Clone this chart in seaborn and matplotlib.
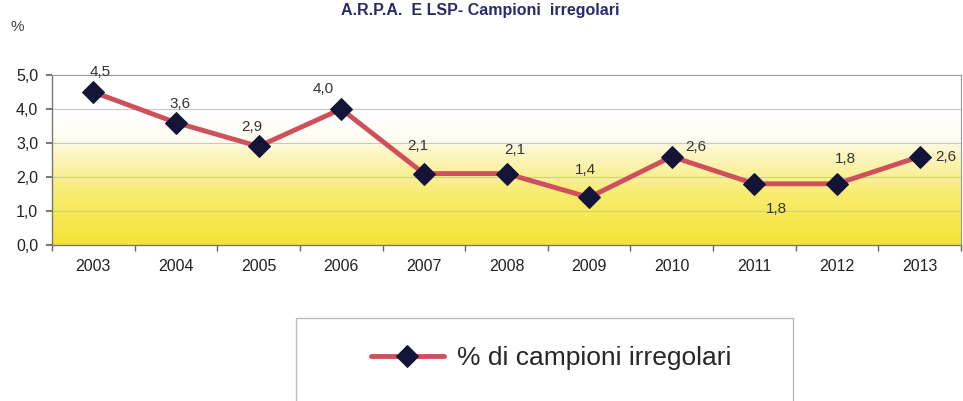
import numpy as np
import pandas as pd
import matplotlib
matplotlib.use("Agg")
import matplotlib.pyplot as plt
from matplotlib.patches import Rectangle
from matplotlib.colors import LinearSegmentedColormap
import seaborn as sns

years = ["2003", "2004", "2005", "2006", "2007", "2008", "2009", "2010", "2011", "2012", "2013"]
values = [4.5, 3.6, 2.9, 4.0, 2.1, 2.1, 1.4, 2.6, 1.8, 1.8, 2.6]
labels = ["4,5", "3,6", "2,9", "4,0", "2,1", "2,1", "1,4", "2,6", "1,8", "1,8", "2,6"]
yticks = [0, 1, 2, 3, 4, 5]
ytick_labels = ["0,0", "1,0", "2,0", "3,0", "4,0", "5,0"]
series_name = "% di campioni irregolari"
title = "A.R.P.A.  E LSP- Campioni  irregolari"

sns.set_theme(style="white")
plt.rcParams['font.family'] = ['Liberation Sans', 'DejaVu Sans']

fig = plt.figure(figsize=(9.63, 4.01), dpi=100)
ax = fig.add_axes([52/963, 1-245/401, (961-52)/963, (245-75)/401])

# gradient background (white at top -> yellow at bottom)
cmap = LinearSegmentedColormap.from_list("g", [(0.0, "#f4e432"), (0.3, "#f8ec70"), (0.55, "#fcf6c8"), (0.62, "#fffdf0"), (0.75, "#ffffff"), (1.0, "#ffffff")])
grad = np.linspace(0, 1, 256).reshape(-1, 1)
ax.imshow(grad, extent=[-0.5, 10.5, 0, 5], origin="lower", aspect="auto", cmap=cmap, zorder=0)

df = pd.DataFrame({"year": years, "value": values, "serie": series_name})
x = np.arange(len(years))
df["x"] = x
sns.lineplot(data=df, x="x", y="value", ax=ax, color="#cf4f5a", linewidth=3.5,
             marker="D", markersize=11, markerfacecolor="#141438", markeredgecolor="#141438",
             label=series_name, zorder=3)

for yv in [1, 2, 3, 4]:
    ax.axhline(yv, color="#c8c8c0", linewidth=0.8, zorder=1)

# label offsets in pixels (dx, dy)
offsets = [(7, 20), (4, 19), (-7, 19), (-18, 20), (-6, 28), (8, 24), (-4, 27), (24, 10), (22, -25), (8, 25), (26, 0)]
for xi, v, lab, (dx, dy) in zip(x, values, labels, offsets):
    ax.annotate(lab, (xi, v), xytext=(dx, dy), textcoords="offset pixels", ha="center", va="center",
                fontsize=11, color="#333333", zorder=4, annotation_clip=False)

ax.set_xlim(-0.5, 10.5)
ax.set_ylim(0, 5)
ax.set_xticks(x)
ax.set_xticklabels(years, fontsize=11.5, color="#222222")
ax.set_xticks(np.arange(-0.5, 11, 1), minor=True)
ax.tick_params(axis="x", which="major", length=0, pad=10)
ax.tick_params(axis="x", which="minor", length=4, direction="out", color="#666666", bottom=True)
ax.set_yticks(yticks)
ax.set_yticklabels(ytick_labels, fontsize=11.5, color="#222222")
ax.tick_params(axis="y", length=4, direction="out", color="#666666", left=True, pad=6)
ax.set_xlabel("")
ax.set_ylabel("")
for s in ["left", "bottom"]:
    ax.spines[s].set_color("#777777")
    ax.spines[s].set_linewidth(1.0)
for s in ["top", "right"]:
    ax.spines[s].set_color("#999999")
    ax.spines[s].set_linewidth(0.8)

ax.get_legend().remove()
handles, lbls = ax.get_legend_handles_labels()
fig.legend(handles, lbls, loc="center", bbox_to_anchor=(551/963, 1-358/401), frameon=False,
           fontsize=19, handlelength=2.75, handletextpad=0.5)
fig.patches.append(Rectangle((296/963, -0.05), (793-296)/963, 0.05 + (401-318)/401,
                             transform=fig.transFigure, fill=False, edgecolor="#bbbbbb", linewidth=1.0))

fig.text(480/963, 1-11/401, title, ha="center", va="center", fontsize=11.5, fontweight="bold",
         color="#2a2a6a", family=["Liberation Sans Narrow", "Liberation Sans", "DejaVu Sans"])
fig.text(10/963, 1-27/401, "%", ha="left", va="center", fontsize=11, color="#444444")

fig.savefig("out.png", dpi=100)
